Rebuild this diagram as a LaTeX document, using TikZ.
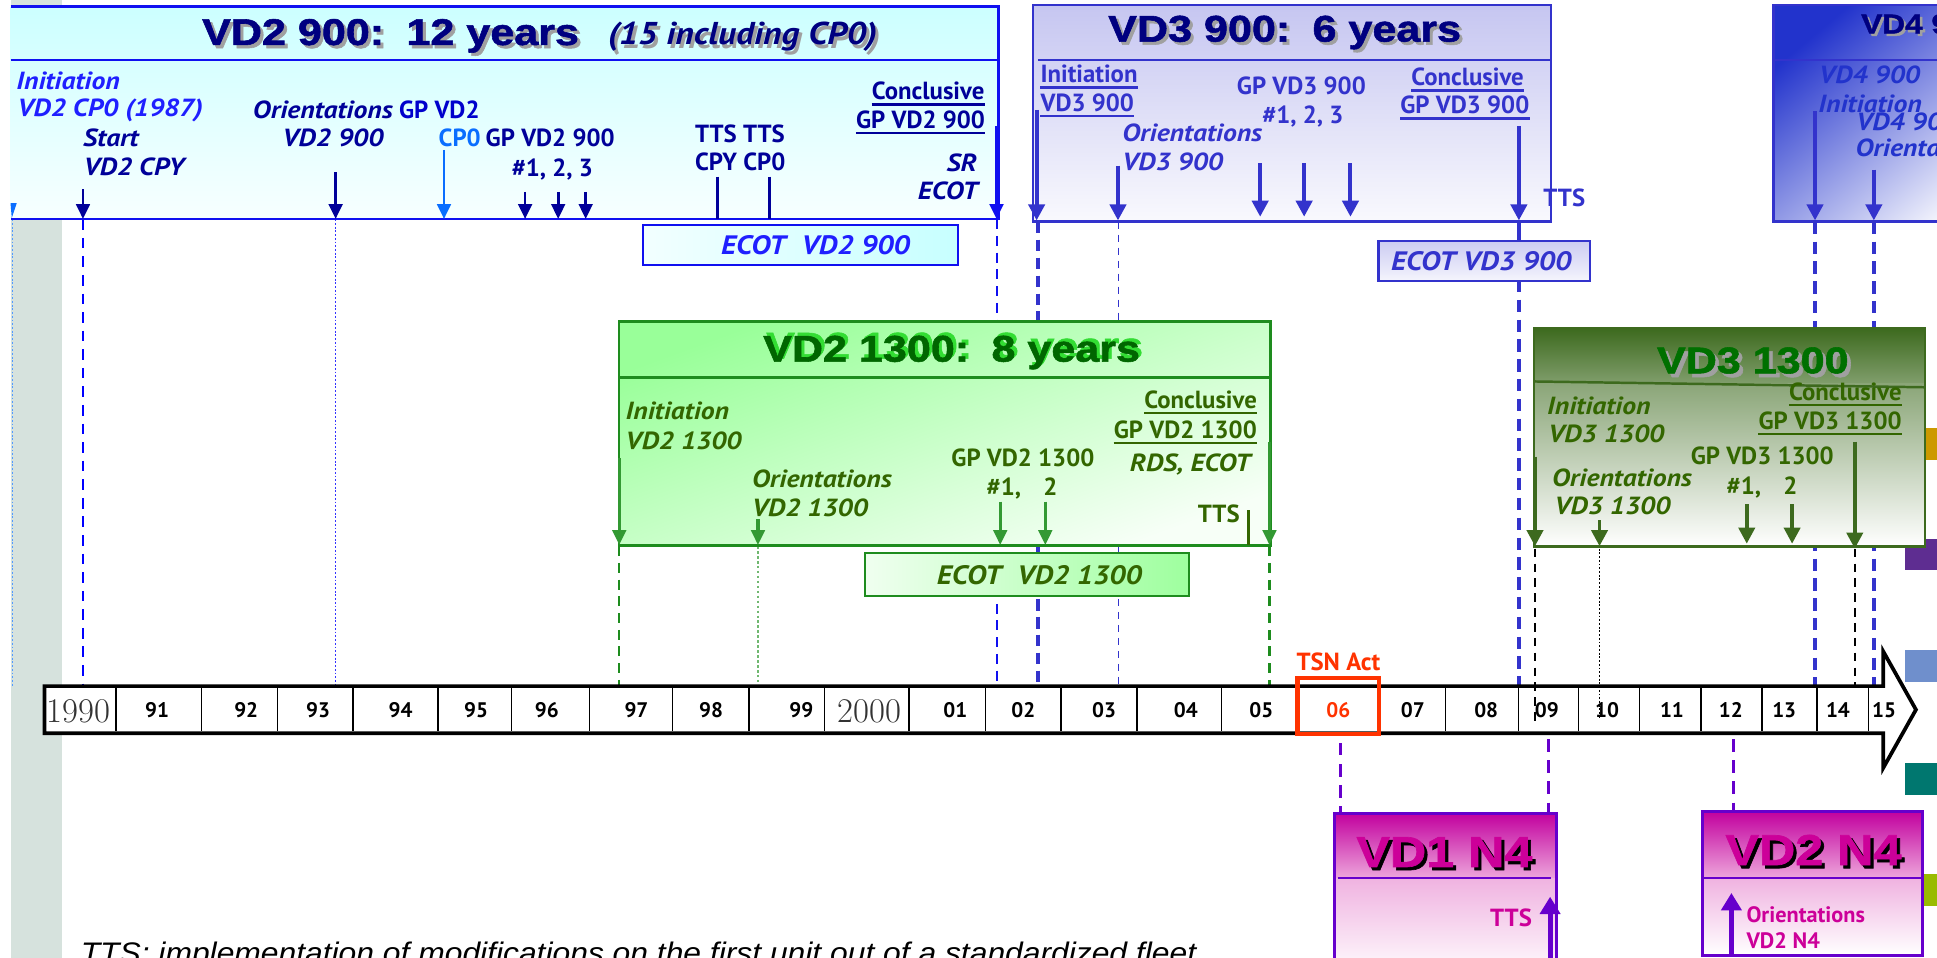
\documentclass[tikz,border=0pt]{standalone}
\usepackage{fontspec}
\usetikzlibrary{arrows.meta}
\newfontfamily\lf{PT Sans}
\newfontfamily\lfi[FakeStretch=1.12]{PT Sans}
\newfontfamily\blackfont[FakeStretch=1.16,FakeBold=1.5]{Liberation Sans Bold}
\newfontfamily\arialf[FakeStretch=1.07]{Liberation Sans}
\definecolor{navy}{HTML}{000080}
\definecolor{navyt}{HTML}{000099}
\definecolor{blueA}{HTML}{1F1FFF}
\definecolor{gpblue}{HTML}{0000CC}
\definecolor{cpzero}{HTML}{0A6EFF}
\definecolor{vtb}{HTML}{3333CC}
\definecolor{vfb}{HTML}{2233CC}
\definecolor{vdborder}{HTML}{1010F0}
\definecolor{gtxt}{HTML}{336600}
\definecolor{garr}{HTML}{339933}
\definecolor{gborder}{HTML}{1E8C1E}
\definecolor{gtitle}{HTML}{006600}
\definecolor{gshadow}{HTML}{33DD33}
\definecolor{othree}{HTML}{3D6A1E}
\definecolor{gthree}{HTML}{007000}
\definecolor{mag}{HTML}{CC0099}
\definecolor{purp}{HTML}{6600CC}
\definecolor{tsn}{HTML}{FF3300}
\definecolor{bandgray}{HTML}{D6E2DD}
\definecolor{sqgold}{HTML}{CC9900}
\definecolor{sqpurple}{HTML}{5E2D91}
\definecolor{sqblue}{HTML}{6F8FCC}
\definecolor{sqteal}{HTML}{00776F}
\definecolor{sqlime}{HTML}{99BB00}
\definecolor{shgray}{HTML}{A0A0A0}
\tikzset{
  lb/.style={inner sep=0pt, font=\lf\bfseries\fontsize{20}{23}\selectfont},
  lbi/.style={inner sep=0pt, font=\lfi\bfseries\itshape\fontsize{20}{23}\selectfont},
  ecott/.style={inner sep=0pt, font=\lfi\bfseries\itshape\fontsize{21.5}{25}\selectfont},
  ttl/.style={inner sep=0pt, anchor=base west, font=\blackfont\fontsize{30}{34}\selectfont},
  ntl/.style={inner sep=0pt, anchor=base west, font=\blackfont\fontsize{35}{40}\selectfont},
  yr/.style={inner sep=0pt, anchor=base, font=\lf\bfseries\fontsize{17}{20}\selectfont},
  serifyr/.style={inner sep=0pt, anchor=base, text=black!80, font=\rmfamily\fontsize{28}{30}\selectfont},
  arrA/.style={-{Triangle[length=12pt,width=11pt]}, line width=2.2pt},
  arrB/.style={-{Triangle[length=13pt,width=13pt]}, line width=3.2pt},
  arrP/.style={-{Triangle[length=14pt,width=16pt]}, line width=4pt, purp},
  plain/.style={line width=2.5pt},
  bdash/.style={line width=2.2pt, dash pattern=on 8.6pt off 6.4pt},
  bdot/.style={line width=0.8pt, dash pattern=on 1.5pt off 1.5pt},
}
\newcommand\vconn[5]{\draw[#1] (#2,#3) coordinate (#5s) -- (#2,#4) coordinate (#5e);}
\newcommand\ulnode[2]{\draw[#1, line width=1.8pt] ([yshift=-3.6pt]#2.base west) -- ([yshift=-3.6pt]#2.base east);}
\begin{document}
\begin{tikzpicture}[x=1pt,y=-1pt]
\useasboundingbox (0,0) rectangle (1564,773.5);
\fill[white] (0,0) rectangle (1564,773.5);
\fill[bandgray] (8.5,0) rectangle (50.4,773.5);
% colour squares at the right edge
\foreach \yy/\cc in {345.7/sqgold, 435/sqpurple, 525/sqblue, 616/sqteal, 706/sqlime}
  \fill[\cc] (1537.8,\yy) rectangle (1570,\yy+25.5);

% ---------- vertical guide lines (behind boxes) ----------
\vconn{cpzero!70, bdot}{10}{177}{555}{g1}
\vconn{blue, bdash}{67}{177}{555}{g2}
\vconn{blue!80, bdot}{271}{177}{555}{g3}
\vconn{vdborder, line width=2pt, dash pattern=on 8pt off 5.5pt}{805}{177}{554}{g4}
\vconn{vtb, line width=3.4pt, dash pattern=on 9.5pt off 5pt}{838}{179}{554}{g5}
\vconn{vtb, line width=1.4pt, dash pattern=on 6pt off 4.5pt}{903}{179}{554}{g6}
\vconn{vtb, line width=3pt}{1226.4}{179}{194}{g7}
\vconn{vtb, line width=3pt, dash pattern=on 10pt off 6pt}{1226.4}{226}{554}{g8}
\vconn{vtb, line width=2.8pt, dash pattern=on 10pt off 6pt}{1465.5}{179}{554}{g9}
\vconn{vtb, line width=2.8pt, dash pattern=on 10pt off 6pt}{1513}{179}{554}{g10}
\vconn{gborder, line width=2pt, dash pattern=on 8pt off 5.5pt}{500}{441}{554}{g11}
\vconn{garr!70, line width=1pt, dash pattern=on 2pt off 2pt}{612}{441}{554}{g12}
\vconn{gborder, line width=2pt, dash pattern=on 8pt off 5.5pt}{1025}{441}{554}{g13}
\vconn{black, line width=2pt, dash pattern=on 7pt off 5pt}{1497.6}{443}{554}{g14}

% ---------- VD2 900 ----------
\shade[top color=cyan!20, bottom color=cyan!3] (8.5,5.4) rectangle (806.3,176.8);
\draw[vdborder, line width=2.2pt] (8.5,5.4) -- (806.3,5.4) -- (806.3,176.8) -- (8.5,176.8);
\draw[vdborder, line width=2.2pt] (8.5,48.4) -- (806.3,48.4);
\fill[cpzero] (8.5,164) -- (13.5,164) -- (9.5,176) -- cycle;
\node[ttl, text=shgray] (t2s) at (165.5,38.8) {VD2 900:\hspace{0.6em}12 years};
\node[ttl, text=navy] (t2) at (163,36.3) {VD2 900:\hspace{0.6em}12 years};
\node[inner sep=0pt, anchor=base west, font=\lfi\bfseries\itshape\fontsize{25.5}{28}\selectfont, text=shgray] (t2bs) at (493,38.8) {(15 including CP0)};
\node[inner sep=0pt, anchor=base west, font=\lfi\bfseries\itshape\fontsize{25.5}{28}\selectfont, text=navy] (t2b) at (490.6,36.3) {(15 including CP0)};
\node[lbi, text=blueA, anchor=base west] (l1) at (13,72) {Initiation};
\node[lbi, text=blueA, anchor=base west] (l2) at (14,94) {VD2 CP0 (1987)};
\node[lbi, text=navyt, anchor=base west] (l3) at (67,118) {Start};
\node[lbi, text=navyt, anchor=base west] (l4) at (67.5,142) {VD2 CPY};
\node[lb, text=gpblue, anchor=base west] (l5) at (204,95.5) {{\lfi\itshape\color{navyt}Orientations} GP VD2};
\node[lbi, text=navyt, anchor=base west] (l6) at (228,118) {VD2 900};
\node[lb, text=cpzero, anchor=base west] (l7) at (354,118) {CP0};
\node[lb, text=navyt, anchor=base west] (l8) at (392,118) {GP VD2 900};
\node[lb, text=navyt, anchor=base west] (l9) at (413,142.6) {\#1, 2, 3};
\node[lb, text=navyt, anchor=base west] (l10) at (561,115) {TTS TTS};
\node[lb, text=navyt, anchor=base west] (l11) at (561,137.8) {CPY CP0};
\node[lb, text=navyt, anchor=base east] (l12) at (795,80.7) {Conclusive};
\node[lb, text=navyt, anchor=base east] (l13) at (795.5,103.6) {GP VD2 900};
\ulnode{navyt}{l12}
\ulnode{navyt}{l13}
\node[lbi, text=navyt, anchor=base east] (l14) at (789,138.6) {SR};
\node[lbi, text=navyt, anchor=base east] (l15) at (789.7,161) {ECOT};
\vconn{arrA, navyt}{67}{153}{176.8}{a1}
\vconn{arrA, navyt}{271}{139}{176.8}{a2}
\vconn{arrA, cpzero}{358.5}{121}{176.8}{a3}
\vconn{arrA, navyt}{424}{155}{176.8}{a4}
\vconn{arrA, navyt}{450.7}{155}{176.8}{a5}
\vconn{arrA, navyt}{472.9}{155}{176.8}{a6}
\vconn{plain, navyt}{579}{142.6}{176.8}{a7}
\vconn{plain, navyt}{621}{142.6}{176.8}{a8}
\vconn{arrA, line width=2.6pt, vdborder}{804.6}{102}{176.8}{a9}
\node[draw=vdborder, line width=1.8pt, left color=cyan!5, right color=cyan!22, minimum width=254.3pt, minimum height=32pt, anchor=north west, inner sep=0pt] (ecot1) at (518.5,181) {};
\node[ecott, text=blueA, anchor=base] (ecot1t) at (658.5,205.5) {ECOT\hspace{0.6em}VD2 900};

% ---------- VD3 900 ----------
\shade[top color=vtb!28, bottom color=vtb!3] (834,4) rectangle (1252.4,179);
\draw[vtb, line width=2.2pt] (834,4) rectangle (1252.4,179);
\draw[vtb, line width=2.2pt] (838,48.4) -- (1252.4,48.4);
\node[ttl, text=shgray] (t3s) at (897,36) {VD3 900:\hspace{0.6em}6 years};
\node[ttl, text=navy] (t3) at (894.6,33.6) {VD3 900:\hspace{0.6em}6 years};
\node[lb, text=vtb, anchor=base west] (m1) at (840,67) {Initiation};
\node[lb, text=vtb, anchor=base west] (m2) at (840,90) {VD3 900};
\ulnode{vtb}{m1}
\ulnode{vtb}{m2}
\node[lbi, text=vtb, anchor=base west] (m3) at (906,114) {Orientations};
\node[lbi, text=vtb, anchor=base west] (m4) at (906,137.8) {VD3 900};
\node[lb, text=vtb, anchor=base east] (m5) at (1103,76.7) {GP VD3 900};
\node[lb, text=vtb, anchor=base east] (m6) at (1085,99.6) {\#1, 2, 3};
\node[lb, text=vtb, anchor=base east] (m7) at (1230.5,69.4) {Conclusive};
\node[lb, text=vtb, anchor=base east] (m8) at (1235,92) {GP VD3 900};
\ulnode{vtb}{m7}
\ulnode{vtb}{m8}
\node[lb, text=vtb, anchor=base west] (m9) at (1246,167) {TTS};
\vconn{arrB, vtb}{837}{88.8}{178}{b1}
\vconn{arrB, vtb}{902.7}{133.8}{178}{b2}
\vconn{arrB, vtb}{1017.5}{132}{175}{b3}
\vconn{arrB, vtb}{1053}{132}{175}{b4}
\vconn{arrB, vtb}{1090.4}{132}{175}{b5}
\vconn{arrB, vtb}{1226.4}{102}{178}{b6}
\node[draw=vtb, line width=2pt, top color=vtb!25, bottom color=vtb!5, minimum width=171pt, minimum height=32.2pt, anchor=north west, inner sep=0pt] (ecot2) at (1112,193.8) {};
\node[ecott, text=vtb, anchor=base] (ecot2t) at (1196,218.5) {ECOT VD3 900};

% ---------- VD4 900 ----------
\shade[top color=vfb, bottom color=white, shading angle=40] (1432,4) rectangle (1640,179);
\draw[vtb, line width=2.2pt] (1640,4) -- (1432,4) -- (1432,179) -- (1640,179);
\draw[vtb, line width=2pt] (1432,48.4) -- (1640,48.4);
\node[ttl, text=shgray, font=\blackfont\fontsize{22}{26}\selectfont] (t4s) at (1504.6,29) {VD4 900};
\node[ttl, text=navy, font=\blackfont\fontsize{22}{26}\selectfont] (t4) at (1502.6,27) {VD4 900};
\node[lbi, text=vfb, anchor=base west] (v1) at (1468.7,67.3) {VD4 900};
\node[lbi, text=vfb, anchor=base west] (v2) at (1468,91) {Initiation};
\node[lbi, text=vfb, anchor=base west] (v3) at (1498.6,105.5) {VD4 900};
\node[lbi, text=vfb, anchor=base west] (v4) at (1498,126.5) {Orientations};
\vconn{arrB, vtb}{1465.5}{90}{178}{c1}
\vconn{arrB, vtb}{1513}{137}{178}{c2}

% ---------- VD2 1300 ----------
\shade[top color=green!40, bottom color=green!3, shading angle=20] (499.8,259.7) rectangle (1026,440.6);
\draw[gborder, line width=2.2pt] (499.8,259.7) rectangle (1026,440.6);
\draw[gborder, line width=2.2pt] (499.8,305) -- (1026,305);
\node[ttl, text=gshadow] (t5s) at (618.5,289.5) {VD2 1300:\hspace{0.6em}8 years};
\node[ttl, text=gtitle] (t5) at (616,292) {VD2 1300:\hspace{0.6em}8 years};
\node[lbi, text=gtxt, anchor=base west] (k1) at (505,339) {Initiation};
\node[lbi, text=gtxt, anchor=base west] (k2) at (505,363) {VD2 1300};
\node[lbi, text=gtxt, anchor=base west] (k3) at (607,394) {Orientations};
\node[lbi, text=gtxt, anchor=base west] (k4) at (607,417) {VD2 1300};
\node[lb, text=gtxt, anchor=base west] (k5) at (768,376.8) {GP VD2 1300};
\node[lb, text=gtxt, anchor=base west] (k6) at (796.5,400) {\#1,\hspace{0.9em}2};
\node[lb, text=gtxt, anchor=base east] (k7) at (1015,330) {Conclusive};
\node[lb, text=gtxt, anchor=base east] (k8) at (1015,353.8) {GP VD2 1300};
\ulnode{gtxt}{k7}
\ulnode{gtxt}{k8}
\node[lbi, text=gtxt, anchor=base east] (k9) at (1010,381) {RDS, ECOT};
\node[lb, text=gtxt, anchor=base west] (k10) at (967,422) {TTS};
\vconn{arrA, line width=2.5pt, garr}{500}{370}{440}{d1}
\vconn{arrA, line width=2.5pt, garr}{612}{419}{440}{d2}
\vconn{arrA, line width=2.5pt, garr}{807.6}{405}{440}{d3}
\vconn{arrA, line width=2.5pt, garr}{844}{405}{440}{d4}
\vconn{plain, gtxt}{1008.3}{412}{440}{d5}
\vconn{arrA, line width=2.5pt, garr}{1025}{356.6}{440}{d6}
\node[draw=gborder, line width=2pt, left color=green!6, right color=green!38, minimum width=261.4pt, minimum height=35pt, anchor=north west, inner sep=0pt] (ecot3) at (697.6,445.4) {};
\node[ecott, text=gtxt, anchor=base west] (ecot3t) at (756.3,472) {ECOT\hspace{0.6em}VD2 1300};

% ---------- VD3 1300 ----------
\shade[top color=othree, bottom color=othree!65!white] (1238.4,265) rectangle (1554.1,310);
\shade[top color=othree!60!white, middle color=othree!20!white, bottom color=white] (1238.4,310) rectangle (1554.1,441.4);
\draw[othree, line width=2pt] (1238.4,265) rectangle (1554.1,441.4);
\draw[othree, line width=2pt] (1238.4,308) -- (1554.1,312.7);
\node[ttl, text=shgray] (t6s) at (1340.7,304.4) {VD3 1300};
\node[ttl, text=gthree] (t6) at (1337.7,301.4) {VD3 1300};
\node[lbi, text=gtxt, anchor=base west] (h1) at (1249,335) {Initiation};
\node[lbi, text=gtxt, anchor=base west] (h2) at (1250,357.4) {VD3 1300};
\node[lbi, text=gtxt, anchor=base west] (h3) at (1253,393) {Orientations};
\node[lbi, text=gtxt, anchor=base west] (h4) at (1255,415.3) {VD3 1300};
\node[lb, text=gtxt, anchor=base west] (h5) at (1365,375) {GP VD3 1300};
\node[lb, text=gtxt, anchor=base west] (h6) at (1394,399) {\#1,\hspace{0.9em}2};
\node[lb, text=gtxt, anchor=base east] (h7) at (1535.6,323.5) {Conclusive};
\node[lb, text=gtxt, anchor=base east] (h8) at (1535.6,346.7) {GP VD3 1300};
\ulnode{gtxt}{h7}
\ulnode{gtxt}{h8}
\vconn{arrB, line width=3pt, othree}{1239.4}{368.7}{441}{e1}
\vconn{arrB, line width=3pt, othree}{1291.5}{419.9}{441}{e2}
\vconn{arrB, line width=3pt, othree}{1410.4}{407}{439}{e3}
\vconn{arrB, line width=3pt, othree}{1447}{407}{439}{e4}
\vconn{arrB, line width=3pt, othree}{1497.6}{356.6}{443}{e5}

% ---------- time line ----------
\draw[line width=3pt, fill=white] (36,554) -- (1520.6,554) -- (1520.6,526) -- (1547,573) -- (1520.6,620) -- (1520.6,592) -- (36,592) -- cycle;
\foreach \xx in {93.7,162.9,224,285,353.6,413,476,543.3,604.7,665.7,734,796,856.7,918,986,1167.4,1226,1274.7,1324,1373.5,1422.6,1467,1508.8}
  \draw[line width=1pt] (\xx,555.5) -- (\xx,590.5);
\node[serifyr] (yr1990) at (63.5,583.5) {1990};
\node[serifyr] (yr2000) at (701.9,583.5) {2000};
\foreach \xx/\tt in {126.9/91, 198.8/92, 256.9/93, 323.5/94, 384.4/95, 441.5/96, 513.9/97, 574.1/98, 647/99, 771.4/01, 826.3/02, 891.4/03, 957.5/04, 1018.4/05, 1140.8/07, 1200/08, 1249/09, 1297.6/10, 1350/11, 1397.5/12, 1440.6/13, 1484/14, 1521.2/15}
  \node[yr] (yr\tt) at (\xx,579) {\tt};
\draw[tsn, line width=3.5pt] (1047.6,547.5) rectangle (1113.6,592.7);
\node[yr, text=tsn] (yr06) at (1080.6,579) {06};
\node[lb, text=tsn, anchor=base] (tsn) at (1080.6,541.5) {TSN Act};
\vconn{black, line width=2pt, dash pattern=on 7pt off 5pt}{1239.4}{443}{583}{g15}
\vconn{black, bdot}{1291.5}{443}{580}{g16}

% ---------- N4 ----------
\vconn{purp, line width=2.5pt, dash pattern=on 10pt off 7pt}{1082}{600}{656}{p1}
\vconn{purp, line width=2.5pt, dash pattern=on 10pt off 7pt}{1250}{597}{656}{p2}
\vconn{purp, line width=2.5pt, dash pattern=on 10pt off 7pt}{1400}{597}{655}{p3}
\shade[top color=mag!90!purp, bottom color=mag!35!white] (1077.8,656.6) rectangle (1256.7,709);
\shade[top color=mag!30!white, bottom color=white] (1077.8,709) rectangle (1256.7,790);
\draw[purp, line width=2.5pt] (1077.8,790) -- (1077.8,656.6) -- (1256.7,656.6) -- (1256.7,790);
\draw[purp, line width=2pt] (1080,709) -- (1252,709);
\node[ntl, text=black] (t7s) at (1097.5,702.5) {VD1 N4};
\node[ntl, text=mag] (t7) at (1095,700) {VD1 N4};
\node[lb, text=mag, anchor=base west] (n1) at (1203,748) {TTS};
\vconn{arrP}{1251.6}{776}{724}{q1}
\shade[top color=mag!90!purp, bottom color=mag!35!white] (1375,655) rectangle (1552,709);
\shade[top color=mag!30!white, bottom color=white] (1375,709) rectangle (1552,771.5);
\draw[purp, line width=2.5pt] (1375,655) rectangle (1552,771.5);
\draw[purp, line width=2pt] (1375,709) -- (1552,709);
\node[ntl, text=black] (t8s) at (1395.5,701) {VD2 N4};
\node[ntl, text=mag] (t8) at (1393,698.5) {VD2 N4};
\node[inner sep=0pt, anchor=base west, text=mag, font=\lf\bfseries\fontsize{18}{21}\selectfont] (n2) at (1410,745) {Orientations};
\node[inner sep=0pt, anchor=base west, text=mag, font=\lf\bfseries\fontsize{18}{21}\selectfont] (n3) at (1410,765.5) {VD2 N4};
\vconn{arrP}{1398}{771}{721}{q2}

% ---------- footnote ----------
\node[inner sep=0pt, anchor=base west, font=\arialf\itshape\fontsize{24}{28}\selectfont] (foot) at (65,778) {TTS: implementation of modifications on the first unit out of a standardized fleet};
\end{tikzpicture}
\end{document}
